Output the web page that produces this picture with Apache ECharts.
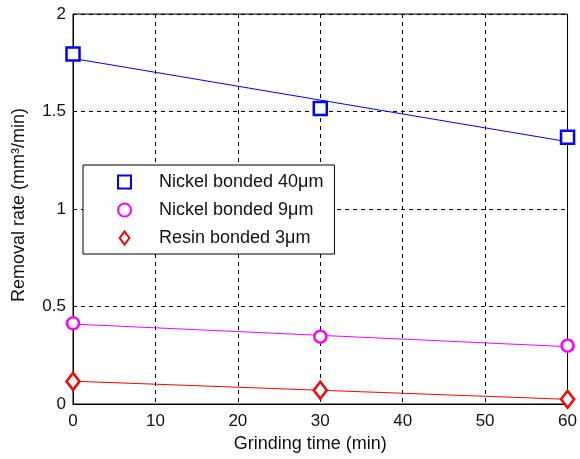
<!DOCTYPE html>
<html>
<head>
<meta charset="utf-8">
<script src="https://cdn.jsdelivr.net/npm/echarts@6/dist/echarts.min.js"></script>
<style>
html,body{margin:0;padding:0;background:#fff;}
#chart{width:580px;height:459px;}
</style>
</head>
<body>
<div id="chart"></div>
<script>
// ---- data ----
var times = [0, 30, 60];
var nickel40 = [1.795, 1.515, 1.368];
var nickel9 = [0.414, 0.345, 0.299];
var resin3 = [0.116, 0.070, 0.024];
// fitted trend lines (end points)
var fitTimes = [0, 60];
var fit40 = [1.772, 1.345];
var fit9 = [0.410, 0.294];
var fit3 = [0.117, 0.024];
var seriesNames = ['Nickel bonded 40μm', 'Nickel bonded 9μm', 'Resin bonded 3μm'];
var xTicks = [0, 10, 20, 30, 40, 50, 60];
var yTicks = [0, 0.5, 1, 1.5, 2];

function pairs(xs, ys) { return xs.map(function (x, i) { return [x, ys[i]]; }); }

var FONT = 'Liberation Sans, Arial, Helvetica, sans-serif';
var chart = echarts.init(document.getElementById('chart'), null, {renderer: 'canvas'});

function markerSeries(name, data, symbol, size, color) {
  return {
    name: name, type: 'scatter', data: data, symbol: symbol, symbolSize: size,
    clip: false, z: 5,
    itemStyle: {color: '#ffffff', borderColor: color, borderWidth: 2.5, opacity: 1},
    emphasis: {disabled: true}
  };
}
function fitSeries(name, data, color) {
  return {
    name: name, type: 'line', data: data, symbol: 'none', silent: true, z: 3,
    lineStyle: {color: color, width: 1}
  };
}

chart.setOption({
  animation: false,
  backgroundColor: '#ffffff',
  textStyle: {fontFamily: FONT},
  grid: {left: 73, right: 10, top: 14, bottom: 55, show: true, borderColor: '#000', borderWidth: 1, backgroundColor: 'transparent'},
  xAxis: {
    type: 'value', min: xTicks[0], max: xTicks[xTicks.length - 1], interval: 10,
    name: 'Grinding time (min)', nameLocation: 'middle', nameGap: 31,
    nameTextStyle: {fontSize: 18, color: '#111', fontFamily: FONT, padding: [0, 20, 0, 0]},
    axisLine: {show: true, lineStyle: {color: '#000', width: 1}},
    axisTick: {show: false},
    axisLabel: {fontSize: 17, color: '#111', margin: 9, fontFamily: FONT},
    splitLine: {show: true, lineStyle: {color: '#000', type: [4, 4], width: 1}}
  },
  yAxis: {
    type: 'value', min: yTicks[0], max: yTicks[yTicks.length - 1], interval: 0.5,
    name: 'Removal rate (mm³/min)', nameLocation: 'middle', nameGap: 45,
    nameTextStyle: {fontSize: 18, color: '#111', fontFamily: FONT, padding: [0, 0, 0, 8]},
    axisLine: {show: true, lineStyle: {color: '#000', width: 1}},
    axisTick: {show: false},
    axisLabel: {fontSize: 17, color: '#111', margin: 7, fontFamily: FONT},
    splitLine: {show: true, lineStyle: {color: '#000', type: [4, 4], width: 1}}
  },
  legend: {
    data: [
      {name: seriesNames[0]},
      {name: seriesNames[1]},
      {name: seriesNames[2], icon: 'path://M6,0L12,8L6,16L0,8Z'}
    ],
    orient: 'vertical', left: 83, top: 165,
    backgroundColor: '#ffffff', borderColor: '#000', borderWidth: 1, borderRadius: 0,
    padding: [8, 11, 7, 34],
    itemWidth: 13, itemHeight: 13, itemGap: 10,
    selectedMode: false,
    textStyle: {fontSize: 18, color: '#111', lineHeight: 18, padding: [0, 0, 0, 23], fontFamily: FONT}
  },
  series: [
    fitSeries('fit40', pairs(fitTimes, fit40), '#0000ff'),
    fitSeries('fit9', pairs(fitTimes, fit9), '#ff00ff'),
    fitSeries('fit3', pairs(fitTimes, fit3), '#ff0000'),
    markerSeries(seriesNames[0], pairs(times, nickel40), 'rect', 13, '#0000ff'),
    markerSeries(seriesNames[1], pairs(times, nickel9), 'circle', 12, '#ff00ff'),
    markerSeries(seriesNames[2], pairs(times, resin3), 'diamond', [13, 17], '#ff0000')
  ]
});
</script>
</body>
</html>
